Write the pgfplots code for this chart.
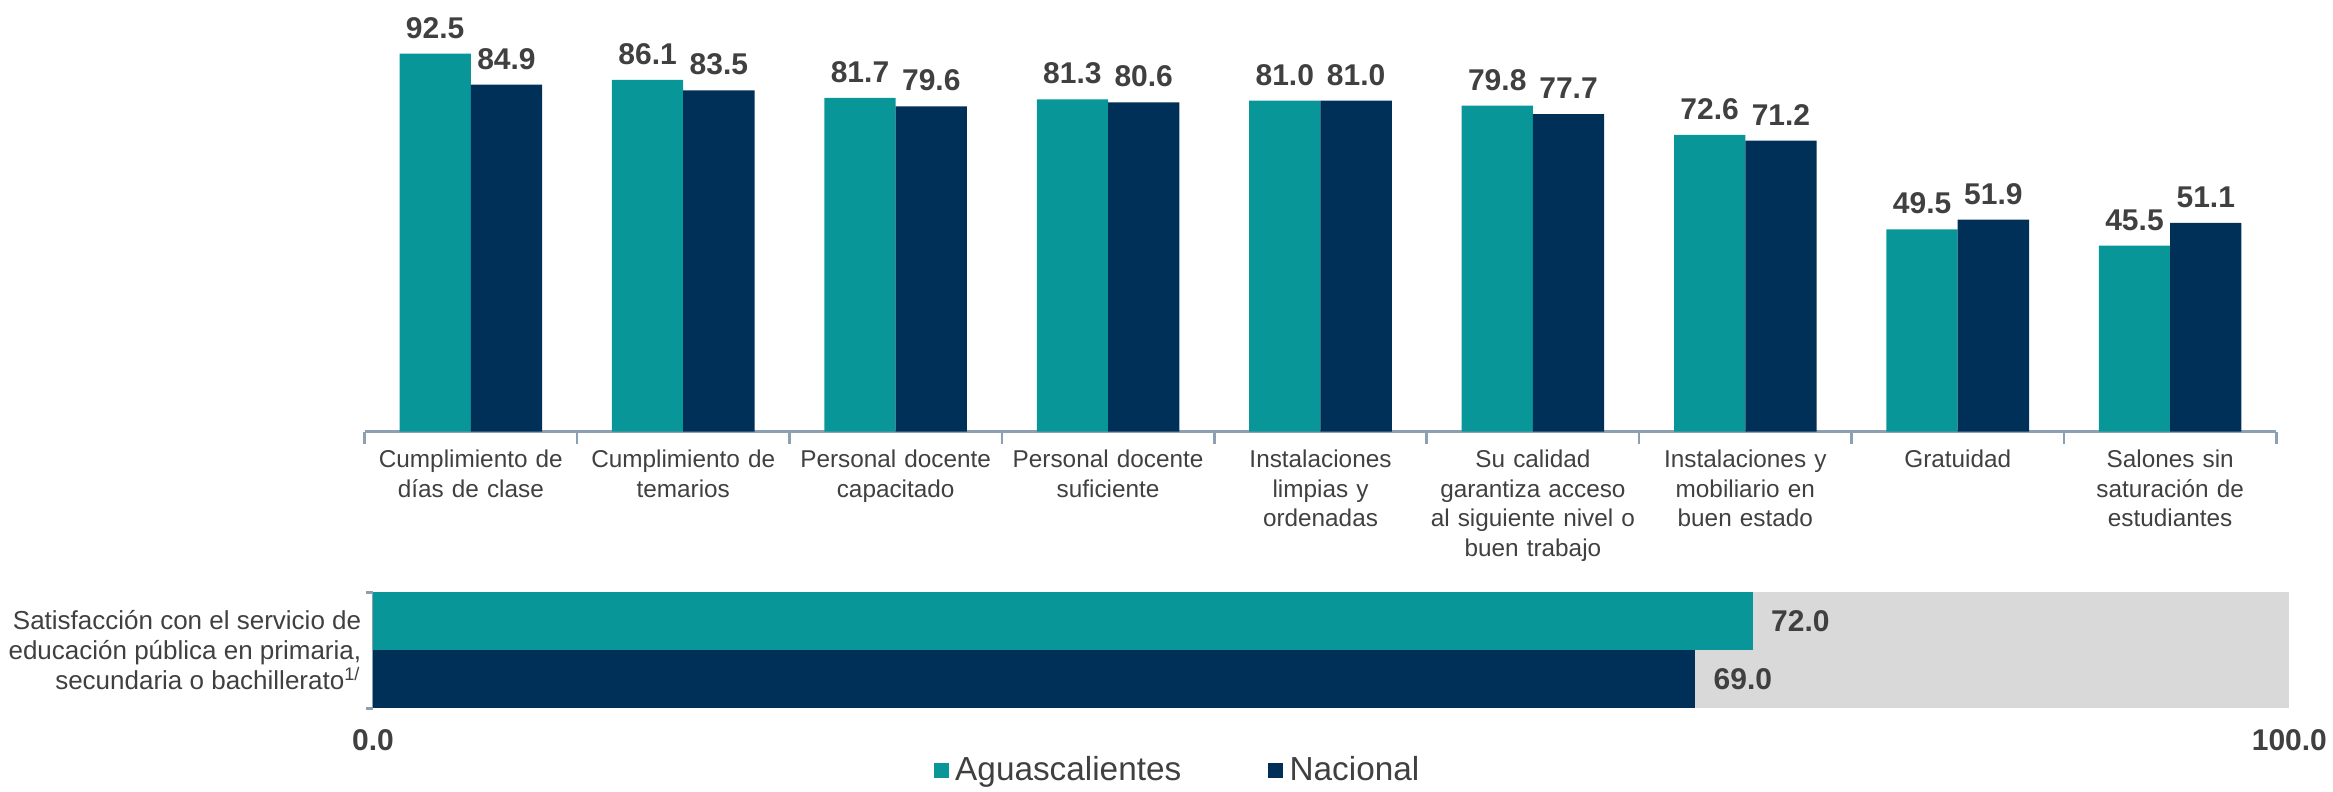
\documentclass[border=0pt]{standalone}
\usepackage{pgfplots}
\pgfplotsset{compat=1.18}
\usepackage{fontspec}
\setmainfont{Liberation Sans}

\definecolor{aguas}{RGB}{9,150,152}
\definecolor{nacional}{RGB}{0,48,87}
\definecolor{fondo}{RGB}{217,217,217}
\definecolor{eje}{RGB}{140,160,180}
\definecolor{texto}{RGB}{64,64,64}

\newcommand\satlabel{Satisfacción con el servicio de\\educación pública en primaria,\\secundaria o bachillerato\textsuperscript{1/}}

\begin{document}
\begin{tikzpicture}
\useasboundingbox (0,0) rectangle (700pt,237.5pt);

% barras por atributo
\begin{axis}[
  at={(109.4pt,108.0pt)}, anchor=south west,
  scale only axis, width=573.6pt, height=122.6pt,
  ymin=0, ymax=100, xmin=-0.5, xmax=8.5,
  ybar=0pt, bar width=21.4pt,
  axis x line*=bottom, axis y line=none,
  x axis line style={draw=eje, line width=0.8pt, -},
  xtick={0,...,8}, major tick length=0pt,
  minor xtick={-0.5,0.5,...,8.5}, minor tick length=3.6pt, tick align=outside,
  minor tick style={draw=eje, line width=0.8pt},
  xticklabels={
    {Cumplimiento de\\días de clase},
    {Cumplimiento de\\temarios},
    {Personal docente\\capacitado},
    {Personal docente\\suficiente},
    {Instalaciones\\limpias y\\ordenadas},
    {Su calidad\\garantiza acceso\\al siguiente nivel o\\buen trabajo},
    {Instalaciones y\\mobiliario en\\buen estado},
    {Gratuidad},
    {Salones sin\\saturación de\\estudiantes}},
  xticklabel style={align=center, text width=66pt, font=\fontsize{7.3}{8.9}\selectfont, text=texto, yshift=-2pt},
  nodes near coords,
  nodes near coords style={font=\fontsize{9}{10}\selectfont\bfseries, text=texto},
  every node near coord/.append style={yshift=1pt},
  /pgf/number format/fixed, /pgf/number format/fixed zerofill,
  /pgf/number format/precision=1, /pgf/number format/assume math mode=true,
]
\addplot[fill=aguas, draw=none] coordinates {
  (0,92.5) (1,86.1) (2,81.7) (3,81.3) (4,81.0) (5,79.8) (6,72.6) (7,49.5) (8,45.5)};
\addplot[fill=nacional, draw=none] coordinates {
  (0,84.9) (1,83.5) (2,79.6) (3,80.6) (4,81.0) (5,77.7) (6,71.2) (7,51.9) (8,51.1)};
\end{axis}

% satisfaccion general
\begin{axis}[
  at={(111.9pt,25.0pt)}, anchor=south west,
  scale only axis, width=575pt, height=34.8pt,
  xmin=0, xmax=100, ymin=-0.5, ymax=1.5,
  axis background/.style={fill=fondo},
  axis x line*=bottom, axis y line*=left,
  x axis line style={draw=none},
  y axis line style={draw=eje, line width=0.8pt, -},
  xtick={0,100}, xticklabels={0.0,100.0},
  xticklabel style={font=\fontsize{9}{10}\selectfont\bfseries, text=texto, yshift=-3pt},
  ytick={0.5},
  yticklabels={\satlabel},
  yticklabel style={align=right, font=\fontsize{7.8}{9}\selectfont, text=texto},
  major tick length=0pt,
  minor ytick={-0.5,1.5}, minor tick length=2pt, tick align=outside,
  minor tick style={draw=eje, line width=0.8pt},
  bar width=17.4pt,
  point meta=x,
  nodes near coords,
  nodes near coords style={font=\fontsize{9}{10}\selectfont\bfseries, text=texto, anchor=west, xshift=2pt},
  /pgf/number format/fixed, /pgf/number format/fixed zerofill,
  /pgf/number format/precision=1, /pgf/number format/assume math mode=true,
  legend style={at={(0.421,-0.54)}, anchor=center, draw=none, fill=none,
    font=\fontsize{10}{11}\selectfont, text=texto, legend columns=2,
    /tikz/every even column/.append style={column sep=24pt}},
  legend image code/.code={\fill[#1,/tikz/.cd,yshift=-0.2em] (0em,0em) rectangle (0.45em,0.45em);},
]
\addplot[xbar, bar shift=0pt, fill=aguas, draw=none] coordinates {(72.0,1)};
\addlegendentry{Aguascalientes}
\addplot[xbar, bar shift=0pt, fill=nacional, draw=none] coordinates {(69.0,0)};
\addlegendentry{Nacional}
\end{axis}
\end{tikzpicture}
\end{document}
